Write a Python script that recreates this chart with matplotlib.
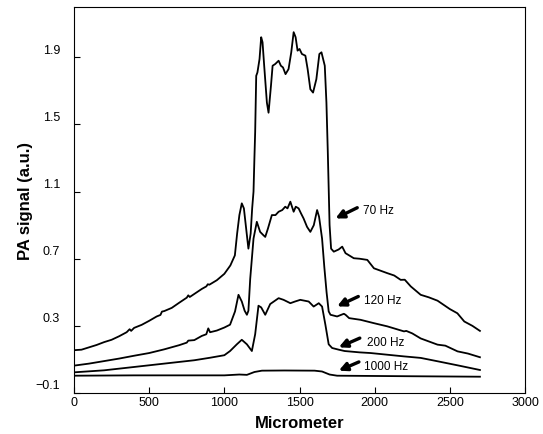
import matplotlib
matplotlib.use('Agg')
import matplotlib.pyplot as plt
from matplotlib.transforms import ScaledTranslation

plt.rcParams['font.family'] = ['Liberation Sans', 'DejaVu Sans']

# 70 Hz trace
x70 = [0, 50, 100, 150, 200, 250, 300, 350, 370, 380, 400, 450, 500, 550, 575,
       585, 600, 650, 700, 750, 760, 770, 800, 850, 880, 890, 900, 950, 1000,
       1040, 1070, 1085, 1100, 1116, 1130, 1145,
       1160, 1175, 1185, 1194, 1200, 1205, 1212, 1220, 1234, 1245, 1254, 1265,
       1283, 1294, 1310, 1321, 1338, 1361, 1376, 1390, 1407, 1427, 1445, 1461,
       1474, 1487, 1500, 1516, 1539, 1554, 1572, 1590, 1612, 1632, 1646, 1668,
       1679, 1688, 1694, 1700, 1710, 1728, 1760, 1784, 1806, 1861, 1900, 1951,
       1995, 2084, 2130, 2173, 2200, 2240, 2306, 2360, 2418, 2500, 2550, 2596,
       2650, 2700]
y70 = [0.155, 0.158, 0.172, 0.186, 0.203, 0.217, 0.238, 0.262, 0.280, 0.270,
       0.288, 0.306, 0.330, 0.356, 0.365, 0.385, 0.388, 0.407, 0.438, 0.468,
       0.482, 0.472, 0.490, 0.520, 0.535, 0.548, 0.545, 0.572,
       0.610, 0.660, 0.720, 0.850, 0.960, 1.030, 1.000, 0.880, 0.760, 0.850,
       1.000, 1.100, 1.300, 1.455, 1.790, 1.810, 1.890, 2.020, 1.990, 1.850,
       1.630, 1.570, 1.730, 1.850, 1.860, 1.880, 1.850, 1.840, 1.800, 1.830,
       1.930, 2.050, 2.020, 1.940, 1.950, 1.920, 1.910, 1.830, 1.710, 1.690,
       1.770, 1.920, 1.930, 1.850, 1.630, 1.340, 1.120, 0.900, 0.760, 0.742,
       0.755, 0.772, 0.733, 0.703, 0.700, 0.693, 0.643, 0.614, 0.600, 0.574,
       0.575, 0.535, 0.485, 0.470, 0.450, 0.400, 0.375, 0.326, 0.300, 0.270]

# 120 Hz trace
x120 = [0, 100, 200, 300, 400, 500, 600, 700, 750, 760, 800, 850, 880, 893,
        905, 950, 1000, 1038,
        1071, 1094, 1116, 1135, 1150, 1160, 1172, 1194, 1216, 1238, 1260, 1272,
        1290, 1316, 1340, 1361, 1385, 1405, 1420, 1439, 1450, 1461, 1475, 1494,
        1510, 1527, 1550, 1572, 1595, 1617, 1630, 1650, 1665, 1680, 1694, 1706,
        1750, 1795, 1806, 1830, 1906, 1995, 2084, 2195, 2210, 2250, 2306, 2418,
        2470, 2551, 2620, 2700]
y120 = [0.063, 0.075, 0.090, 0.105, 0.122, 0.138, 0.160, 0.185, 0.200, 0.212,
        0.215, 0.240, 0.250, 0.285, 0.262, 0.272, 0.290, 0.307, 0.386, 0.485,
        0.445, 0.390, 0.366, 0.390,
        0.580, 0.820, 0.920, 0.860, 0.840, 0.830, 0.880, 0.960, 0.960, 0.980,
        0.990, 1.010, 1.000, 1.040, 1.010, 0.980, 1.010, 1.000, 0.970, 0.940,
        0.890, 0.860, 0.900, 0.990, 0.950, 0.820, 0.650, 0.500, 0.386, 0.366,
        0.356, 0.372, 0.366, 0.346, 0.336, 0.316, 0.297, 0.267, 0.270, 0.255,
        0.225, 0.188, 0.182, 0.148, 0.135, 0.113]

# 200 Hz trace
x200 = [0, 200, 400, 500, 600, 800, 905, 1000, 1038, 1083, 1116, 1150, 1183,
        1205, 1227, 1245, 1272, 1305, 1361, 1394, 1439, 1470, 1505, 1561, 1594,
        1628, 1650, 1672, 1694, 1717, 1761, 1800, 1900, 1973, 2195, 2306, 2418,
        2550, 2700]
y200 = [0.023, 0.035, 0.055, 0.065, 0.075, 0.095, 0.110, 0.125, 0.150, 0.190,
        0.217, 0.190, 0.150, 0.250, 0.420, 0.410, 0.366, 0.430, 0.465, 0.455,
        0.435, 0.445, 0.455, 0.445, 0.415, 0.435, 0.415, 0.307, 0.190, 0.168,
        0.158, 0.150, 0.142, 0.138, 0.118, 0.109, 0.089, 0.065, 0.037]

# 1000 Hz trace
x1000 = [0, 400, 1000, 1100, 1150, 1200, 1250, 1400, 1600, 1650, 1700, 1750,
         2200, 2700]
y1000 = [0.003, 0.005, 0.005, 0.010, 0.008, 0.025, 0.033, 0.034, 0.033, 0.028,
         0.010, 0.003, 0.000, -0.003]

# labels: text, arrow tip (x, y), arrow tail (x, y), text position (x, y)
labels = ['70 Hz', '120 Hz', '200 Hz', '1000 Hz']
tips = [(1739, 0.94), (1750, 0.416), (1761, 0.172), (1761, 0.033)]
tails = [(1884, 1.004), (1891, 0.475), (1901, 0.227), (1895, 0.085)]
textpos = [(1924, 0.99), (1928, 0.455), (1946, 0.202), (1928, 0.063)]

fig = plt.figure(figsize=(5.43, 4.35), dpi=100)
ax = fig.add_axes([0.1363, 0.0943, 0.8306, 0.8873])

for xs, ys in [(x70, y70), (x120, y120), (x200, y200), (x1000, y1000)]:
    ax.plot(xs, ys, color='black', lw=1.3)

for lab, tip, tail, tp in zip(labels, tips, tails, textpos):
    ax.annotate('', xy=tip, xytext=tail,
                arrowprops=dict(arrowstyle='-|>', color='black', lw=2.4,
                                mutation_scale=12, shrinkA=0, shrinkB=0))
    ax.text(tp[0], tp[1], lab, fontsize=8.5, va='center', ha='left')

ax.set_xlim(0, 3000)
ax.set_ylim(-0.1, 2.2)
ax.set_xticks([0, 500, 1000, 1500, 2000, 2500, 3000])
yt = [-0.1, 0.3, 0.7, 1.1, 1.5, 1.9]
ax.set_yticks(yt)
ax.set_yticklabels(['\u22120.1', '0.3', '0.7', '1.1', '1.5', '1.9'])
ax.tick_params(direction='in', length=4, width=0.8, labelsize=9)
ax.tick_params(axis='x', pad=2)
ax.tick_params(axis='y', pad=10)

# y tick labels sit a bit above their ticks in the original
for lbl in ax.get_yticklabels():
    lbl.set_transform(lbl.get_transform() + ScaledTranslation(0, 9/100., fig.dpi_scale_trans))

ax.set_xlabel('Micrometer', fontsize=12, fontweight='bold', labelpad=5)
ax.set_ylabel('PA signal (a.u.)', fontsize=12, fontweight='bold', labelpad=2)

fig.savefig('out.png', dpi=100)
